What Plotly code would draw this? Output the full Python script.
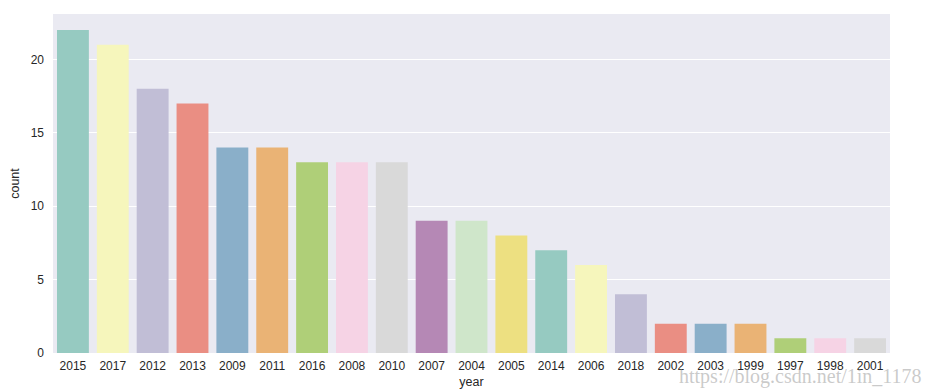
import colorsys
import plotly.graph_objects as go

years = ["2015", "2017", "2012", "2013", "2009", "2011", "2016", "2008", "2010", "2007",
         "2004", "2005", "2014", "2006", "2018", "2002", "2003", "1999", "1997", "1998", "2001"]
counts = [22, 21, 18, 17, 14, 14, 13, 13, 13, 9, 9, 8, 7, 6, 4, 2, 2, 2, 1, 1, 1]

set3 = ["#8dd3c7", "#ffffb3", "#bebada", "#fb8072", "#80b1d3", "#fdb462",
        "#b3de69", "#fccde5", "#d9d9d9", "#bc80bd", "#ccebc5", "#ffed6f"]


def desat(hexc, prop=0.75):
    r, g, b = (int(hexc[i:i + 2], 16) / 255 for i in (1, 3, 5))
    h, l, s = colorsys.rgb_to_hls(r, g, b)
    r, g, b = colorsys.hls_to_rgb(h, l, s * prop)
    return "#%02x%02x%02x" % (round(r * 255), round(g * 255), round(b * 255))


colors = [desat(set3[i % len(set3)]) for i in range(len(years))]

fig = go.Figure(go.Bar(x=years, y=counts, marker=dict(color=colors, line=dict(width=0)),
                       hoverinfo="x+y"))

# page body has an 8px default margin, so the figure is sized to 926x384
fig.update_layout(
    width=926, height=384,
    margin=dict(l=45, r=44, t=6, b=39),
    paper_bgcolor="white",
    plot_bgcolor="#eaeaf2",
    bargap=0.2,
    showlegend=False,
    font=dict(family="Liberation Sans, Arial, sans-serif", size=12, color="#262626"),
    xaxis=dict(type="category", showgrid=False, zeroline=False, ticks="",
               ticklabelstandoff=4, automargin=False,
               title=dict(text="year", standoff=5, font=dict(size=12.5)),
               tickfont=dict(size=12)),
    yaxis=dict(range=[0, 23.09], tickvals=[0, 5, 10, 15, 20], gridcolor="white",
               gridwidth=1, zeroline=False, ticks="", ticklabelstandoff=8,
               automargin=False,
               title=dict(text="count", standoff=10, font=dict(size=12.5)),
               tickfont=dict(size=12)),
)

fig.add_annotation(text="https://blog.csdn.net/1in_1178", xref="paper", yref="paper",
                   x=1.0 + 34 / 837, y=-0.03, xanchor="right", yanchor="top",
                   showarrow=False,
                   font=dict(family="Liberation Serif, serif", size=20, color="rgba(150,150,150,0.5)"))

fig.write_html("out.html")
